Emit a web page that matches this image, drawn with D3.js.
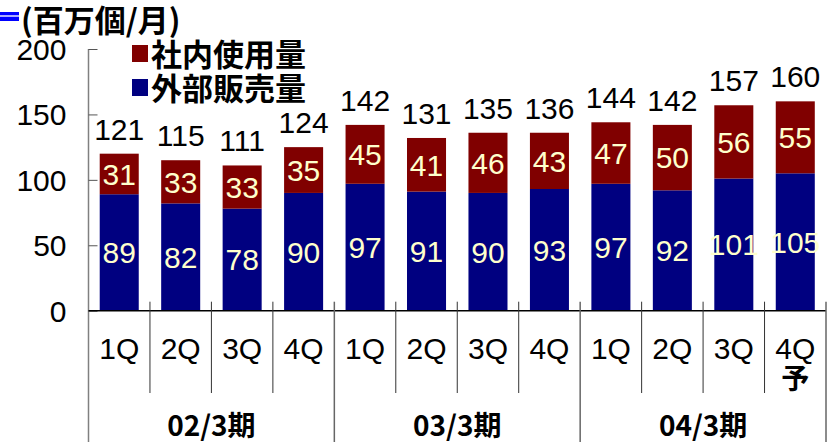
<!DOCTYPE html>
<html>
<head>
<meta charset="utf-8">
<script src="https://cdn.jsdelivr.net/npm/d3@7"></script>
<style>
  body { margin: 0; background: #fff; }
  .num { font-family: "Liberation Sans Narrow", "Liberation Sans", Arial, sans-serif; }
  .cjk { font-family: "Noto Sans CJK JP", sans-serif; font-weight: bold; }
</style>
</head>
<body>
<svg id="chart" width="833" height="442"></svg>
<script>
// data
var quarters = ["1Q", "2Q", "3Q", "4Q", "1Q", "2Q", "3Q", "4Q", "1Q", "2Q", "3Q", "4Q"];
var forecast = ["", "", "", "", "", "", "", "", "", "", "", "予"];
var periods = ["02/3期", "03/3期", "04/3期"];
var external = [89, 82, 78, 90, 97, 91, 90, 93, 97, 92, 101, 105]; // 外部販売量
var internal = [31, 33, 33, 35, 45, 41, 46, 43, 47, 50, 56, 55];   // 社内使用量
var totals = [121, 115, 111, 124, 142, 131, 135, 136, 144, 142, 157, 160];
var yTicks = [0, 50, 100, 150, 200];

var plotLeft = 88.5, plotRight = 826, plotTop = 49, zeroY = 310.7;

var svg = d3.select("#chart");

var x = d3.scaleBand().domain(d3.range(quarters.length)).range([plotLeft, plotRight]).padding(0);
var y = d3.scaleLinear().domain([0, 200]).range([zeroY, plotTop]);
var barW = x.bandwidth() * 0.635;
var cx = (i) => x(i) + x.bandwidth() / 2;

// y axis, ticks pointing inward
var yAxis = svg.append("g")
    .attr("transform", `translate(${plotLeft},0)`)
    .call(d3.axisLeft(y).tickValues(yTicks).tickSize(-9).tickPadding(22));
yAxis.select(".domain")
    .attr("stroke", "#808080")
    .attr("stroke-width", 1.5)
    .attr("d", `M0,${plotTop}V442`);
yAxis.selectAll(".tick line").attr("stroke", "#555");
yAxis.selectAll(".tick text")
    .attr("class", "num")
    .attr("font-size", 30)
    .attr("fill", "#000")
    .attr("dy", "0.35em");

// bars
var stack = quarters.map((q, i) => ({ i: i, ext: external[i], int: internal[i] }));

svg.selectAll("rect.ext")
    .data(stack)
    .join("rect")
    .attr("class", "ext")
    .attr("x", (d) => cx(d.i) - barW / 2)
    .attr("width", barW)
    .attr("y", (d) => y(d.ext))
    .attr("height", (d) => zeroY - y(d.ext))
    .attr("fill", "#000080");

svg.selectAll("rect.int")
    .data(stack)
    .join("rect")
    .attr("class", "int")
    .attr("x", (d) => cx(d.i) - barW / 2)
    .attr("width", barW)
    .attr("y", (d) => y(d.ext + d.int))
    .attr("height", (d) => y(d.ext) - y(d.ext + d.int))
    .attr("fill", "#800000");

// values inside the bars
svg.selectAll("text.extv")
    .data(stack)
    .join("text")
    .attr("class", "num extv")
    .attr("x", (d) => cx(d.i))
    .attr("y", (d) => (y(d.ext) + zeroY) / 2)
    .attr("dy", "0.36em")
    .attr("text-anchor", "middle")
    .attr("font-size", 30)
    .attr("fill", "#ffffcc")
    .text((d) => d.ext);

svg.selectAll("text.intv")
    .data(stack)
    .join("text")
    .attr("class", "num intv")
    .attr("x", (d) => cx(d.i))
    .attr("y", (d) => (y(d.ext) + y(d.ext + d.int)) / 2)
    .attr("dy", "0.36em")
    .attr("text-anchor", "middle")
    .attr("font-size", 30)
    .attr("fill", "#ffffcc")
    .text((d) => d.int);

svg.selectAll("text.tot")
    .data(stack)
    .join("text")
    .attr("class", "num tot")
    .attr("x", (d) => cx(d.i))
    .attr("y", (d) => y(d.ext + d.int) - 14)
    .attr("text-anchor", "middle")
    .attr("font-size", 30)
    .attr("fill", "#000")
    .text((d, i) => totals[i]);

// zero line
svg.append("line")
    .attr("x1", plotLeft).attr("x2", plotRight)
    .attr("y1", zeroY).attr("y2", zeroY)
    .attr("stroke", "#000").attr("stroke-width", 1.5);

// category separators
d3.range(1, quarters.length + 1).forEach(function (k) {
    var xx = k < quarters.length ? x(k) : plotRight;
    var isYear = k % 4 === 0;
    svg.append("line")
        .attr("x1", xx).attr("x2", xx)
        .attr("y1", zeroY - 9).attr("y2", isYear ? 442 : 393)
        .attr("stroke", isYear ? "#666" : "#333")
        .attr("stroke-width", isYear ? 1.5 : 1);
});

// quarter labels
svg.selectAll("text.q")
    .data(quarters)
    .join("text")
    .attr("class", "num q")
    .attr("x", (d, i) => cx(i))
    .attr("y", 359)
    .attr("text-anchor", "middle")
    .attr("font-size", 30)
    .text((d) => d);

svg.selectAll("text.f")
    .data(forecast)
    .join("text")
    .attr("class", "cjk f")
    .attr("x", (d, i) => cx(i))
    .attr("y", 389)
    .attr("text-anchor", "middle")
    .attr("font-size", 28)
    .text((d) => d);

// period labels
svg.selectAll("text.p")
    .data(periods)
    .join("text")
    .attr("class", "cjk p")
    .attr("x", (d, i) => (x(i * 4) + (i * 4 + 4 < quarters.length ? x(i * 4 + 4) : plotRight)) / 2)
    .attr("y", 436)
    .attr("text-anchor", "middle")
    .attr("font-size", 28)
    .text((d) => d);

// unit title with blue mark
svg.append("rect").attr("x", 0).attr("y", 12).attr("width", 19).attr("height", 9).attr("fill", "#0000ff");
svg.append("rect").attr("x", 0).attr("y", 15).attr("width", 19).attr("height", 2).attr("fill", "#aaaaff");
svg.append("text")
    .attr("class", "cjk")
    .attr("x", 21)
    .attr("y", 32)
    .attr("font-size", 31)
    .text("(百万個/月)");

// legend
var legend = [["社内使用量", "#800000"], ["外部販売量", "#000080"]];
legend.forEach(function (l, k) {
    svg.append("rect")
        .attr("x", 132).attr("y", 45 + k * 34)
        .attr("width", 16).attr("height", 17)
        .attr("fill", l[1]);
    svg.append("text")
        .attr("class", "cjk")
        .attr("x", 151).attr("y", 66 + k * 34)
        .attr("font-size", 31)
        .text(l[0]);
});
</script>
</body>
</html>
